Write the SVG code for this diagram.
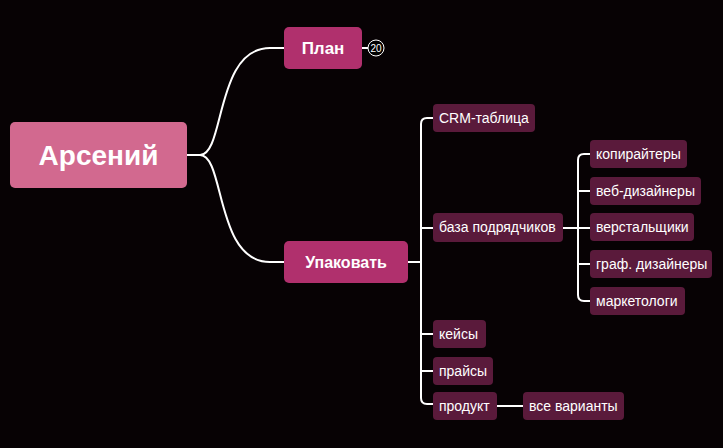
<svg xmlns="http://www.w3.org/2000/svg" width="723" height="448" viewBox="0 0 723 448">
<style>
text{font-family:"Liberation Sans",Arial,sans-serif;fill:#fff}
.c{fill:#5a1a3b}
.t{font-size:14px}
.e{fill:none;stroke:#fff;stroke-width:2}
</style>
<rect width="723" height="448" fill="#070204"/>
<g id="connectors" class="e">
<path d="M187 155H200C225 155 215 48 270 48H284"/>
<path d="M187 155H200C225 155 215 262 270 262H284"/>
<path d="M408 262H421"/>
<path d="M433 118H427Q421 118 421 124V398Q421 404 427 404H433"/>
<path d="M421 228H433M421 334H433M421 371H433"/>
<path d="M497 406H523"/>
<path d="M563 228H590"/>
<path d="M590 154H584Q578 154 578 160V295Q578 301 584 301H590"/>
<path d="M578 191H590M578 264H590"/>
<path d="M362 48H368"/>
</g>
<g id="root"><rect x="10" y="122" width="177" height="66" rx="5" fill="#d2698f"/><text x="98.5" y="165" font-size="28" font-weight="bold" text-anchor="middle">Арсений</text></g>
<g id="plan"><rect x="284" y="27" width="78" height="42" rx="5" fill="#b0306d"/><text x="323" y="54" font-size="17" font-weight="bold" text-anchor="middle">План</text>
<circle cx="376" cy="48" r="8" fill="#000" stroke="#fff" stroke-width="1"/><text x="376" y="52" font-size="10" text-anchor="middle">20</text></g>
<g id="pack"><rect x="284" y="241" width="124" height="42" rx="5" fill="#b0306d"/><text x="346" y="268" font-size="16" font-weight="bold" text-anchor="middle">Упаковать</text></g>
<g id="crm"><rect class="c" x="433" y="104" width="102" height="28" rx="4"/><text class="t" x="439" y="123">CRM-таблица</text></g>
<g id="baza"><rect class="c" x="433" y="213" width="130" height="29" rx="4"/><text class="t" x="439" y="232">база подрядчиков</text></g>
<g id="keisy"><rect class="c" x="433" y="320" width="53" height="28" rx="4"/><text class="t" x="439" y="339">кейсы</text></g>
<g id="praisy"><rect class="c" x="433" y="357" width="60" height="28" rx="4"/><text class="t" x="439" y="376">прайсы</text></g>
<g id="produkt"><rect class="c" x="433" y="392" width="64" height="28" rx="4"/><text class="t" x="439" y="411">продукт</text></g>
<g id="vse"><rect class="c" x="523" y="392" width="101" height="28" rx="4"/><text class="t" x="529" y="411">все варианты</text></g>
<g id="kopi"><rect class="c" x="590" y="140" width="97" height="28" rx="4"/><text class="t" x="596" y="159">копирайтеры</text></g>
<g id="veb"><rect class="c" x="590" y="177" width="111" height="28" rx="4"/><text class="t" x="596" y="196">веб-дизайнеры</text></g>
<g id="verst"><rect class="c" x="590" y="213" width="104" height="28" rx="4"/><text class="t" x="596" y="232">верстальщики</text></g>
<g id="graf"><rect class="c" x="590" y="250" width="122" height="28" rx="4"/><text class="t" x="596" y="269">граф. дизайнеры</text></g>
<g id="mark"><rect class="c" x="590" y="287" width="95" height="28" rx="4"/><text class="t" x="596" y="306">маркетологи</text></g>
</svg>
